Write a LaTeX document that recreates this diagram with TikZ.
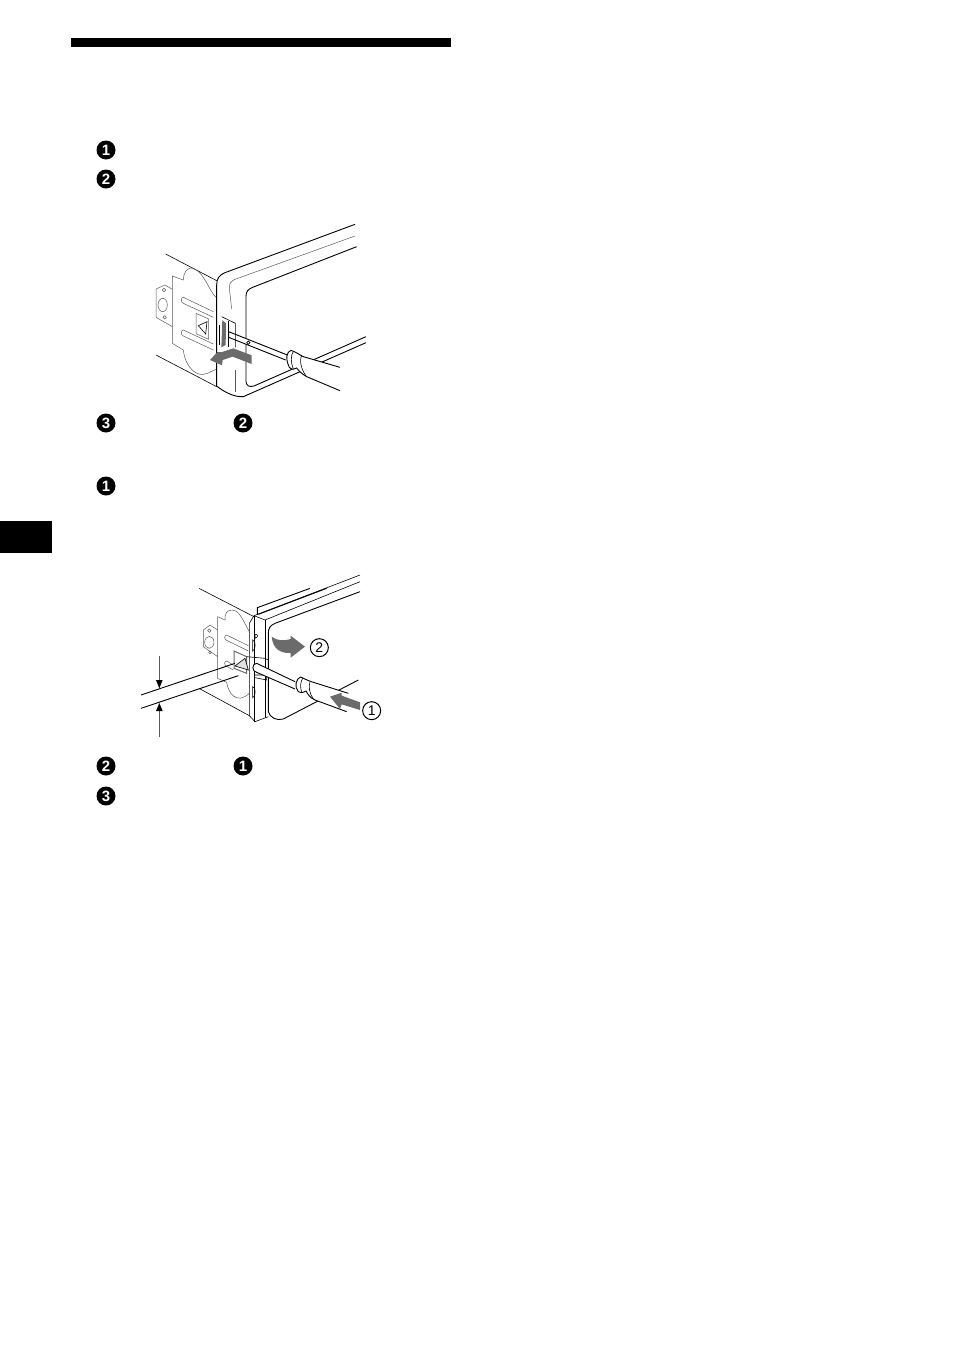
\documentclass[tikz,border=0pt]{standalone}
\usepackage{fontspec}
\setmainfont{Liberation Sans}
\definecolor{arrowgray}{gray}{0.42}
\definecolor{thingray}{gray}{0.35}
\tikzset{
  black num/.style={
    circle,
    fill=black,
    inner sep=0pt,
    minimum size=19pt,
    text=white,
    font=\fontsize{15}{15}\selectfont\bfseries,
  },
  open num/.style={
    circle,
    draw=black,
    line width=1pt,
    inner sep=0pt,
    minimum size=18pt,
    font=\fontsize{14}{14}\selectfont,
  },
  heavy line/.style={line width=0.9pt, black},
  body line/.style={line width=0.6pt, black},
  thin line/.style={line width=0.5pt, thingray},
  gray arrow/.style={fill=arrowgray, draw=none},
}
\begin{document}
\begin{tikzpicture}[x=1pt,y=-1pt]
    \useasboundingbox (0,0) rectangle (954,1352);
    \fill (71,38) rectangle (451,47);
    \fill (0,521) rectangle (52,553);

    \node [black num] (n1) at (106,150) {1};
    \node [black num] (n2) at (106,179) {2};
    \node [black num] (n3) at (106,423) {3};
    \node [black num] (n4) at (243,423) {2};
    \node [black num] (n5) at (106,486) {1};
    \node [black num] (n6) at (106,766) {2};
    \node [black num] (n7) at (243,766) {1};
    \node [black num] (n8) at (106,796) {3};

    % upper drawing
    \begin{scope}[shift={(130,210)},scale=1/3]
        \draw [heavy line] (675,43) -- (285,188) .. controls (268,195) and (260,205) .. (260,225)
            -- (260,528) .. controls (285,548) and (315,562) .. (340,560) -- (708,398);
        \draw [thin line] (675,78) -- (315,208) .. controls (302,214) and (298,220) .. (298,235) -- (305,297);
        \draw [thin line] (315,480) -- (315,545);
        \draw [heavy line] (680,110) -- (368,232) .. controls (353,238) and (348,245) .. (348,260)
            -- (348,515) .. controls (350,528) and (358,532) .. (372,528) -- (708,380);
        \draw [body line] (107,132) -- (260,212);
        \draw [body line] (78,435) -- (260,530);
        % bracket
        \draw [thin line] (258,262) .. controls (235,240) and (225,190) .. (190,175)
            .. controls (170,170) and (160,190) .. (160,210) -- (127,198) -- (127,400) -- (160,420)
            .. controls (165,470) and (200,505) .. (232,490) -- (258,478);
        \draw [thin line] (127,238) -- (105,225) -- (78,237) -- (78,322) -- (127,350);
        \draw [thin line] (98,285) ellipse (14 and 20);
        \draw [thin line] (102,240) circle (5);
        \draw [thin line] (104,322) circle (5);
        \draw [thin line] (250,305) -- (160,262) .. controls (152,262) and (152,278) .. (160,280) -- (250,322);
        \draw [thin line] (250,402) -- (160,360) .. controls (152,360) and (152,376) .. (160,378) -- (250,420);
        \draw [thin line] (198,310) -- (236,327) -- (236,388) -- (198,371) -- cycle;
        \draw [body line] (205,347) -- (231,335) -- (227,372) -- cycle;
        % screwdriver
        \draw [heavy line, fill=white] (472,435) -- (296,365) -- (296,382) -- (467,450);
        \draw [body line] (355,398) circle (5);
        % clip
        \draw [body line] (275,320) -- (316,340) -- (316,412);
        \draw [body line] (295,332) -- (295,412);
        \draw [heavy line] (268,345) -- (268,405);
        \fill [arrowgray] (277,330) -- (288,340) -- (287,405) -- (274,412) -- cycle;
        % handle
        \draw [heavy line, fill=white] (630,472) -- (520,440) .. controls (505,432) and (495,425) .. (483,421)
            .. controls (470,425) and (465,445) .. (478,472) .. controls (485,480) and (495,478) .. (500,474)
            .. controls (505,480) and (510,488) .. (530,500) -- (630,542);
        \draw [body line] (490,424) .. controls (482,435) and (482,458) .. (490,477);
        \draw [body line] (515,435) .. controls (508,450) and (512,475) .. (528,498);
        % arrow
        \fill [gray arrow] (240,450) -- (262,426) -- (276,426) -- (310,415) -- (365,436) -- (365,462)
            -- (308,440) -- (278,450) -- (276,466) -- cycle;
    \end{scope}

    % lower drawing
    \begin{scope}[shift={(130,565)},scale=1/3]
        \draw [body line] (207,70) -- (372,155);
        \draw [body line] (207,370) -- (358,452);
        \draw [heavy line] (382,148) -- (382,128) -- (540,70);
        \draw [heavy line] (385,148) -- (590,70);
        \draw [body line] (372,152) -- (690,30);
        \draw [body line] (405,165) -- (690,50);
        \draw [heavy line] (690,80) -- (435,175) .. controls (420,182) and (415,190) .. (415,205) -- (415,440)
            .. controls (420,458) and (440,468) .. (460,462) -- (685,345);
        \draw [body line] (372,152) -- (372,470);
        \draw [body line] (372,152) -- (358,175) -- (358,452) -- (375,470) -- (415,455);
        \draw [body line] (405,165) -- (405,458);
        \draw [body line] (372,152) -- (405,165);
        % bracket
        \draw [thin line] (358,200) .. controls (340,170) and (330,135) .. (305,135)
            .. controls (290,135) and (283,150) .. (285,165) -- (263,155) -- (263,340) -- (290,352)
            .. controls (295,385) and (320,420) .. (358,385);
        \draw [thin line] (263,195) -- (240,180) -- (220,195) -- (220,245) -- (263,275);
        \draw [thin line] (238,232) ellipse (14 and 18);
        \draw [thin line] (238,197) circle (5);
        \draw [thin line] (240,262) circle (4);
        \draw [thin line] (355,242) -- (290,210) .. controls (282,210) and (282,224) .. (290,226) -- (355,258);
        \draw [thin line] (310,300) -- (290,288) .. controls (282,288) and (282,302) .. (290,304) -- (310,315);
        \draw [body line] (375,208) .. controls (385,205) and (385,218) .. (375,220) -- cycle;
        \draw [body line] (368,225) .. controls (378,225) and (378,255) .. (368,258) -- cycle;
        \draw [body line] (368,365) .. controls (378,365) and (378,395) .. (368,398) -- cycle;
        % latch
        \draw [line width=1pt, arrowgray] (312,258) -- (350,275) -- (350,325) -- (312,310) -- cycle;
        \draw [body line, fill=black!12] (315,303) -- (345,280) -- (355,315) -- cycle;
        \draw [body line] (350,275) -- (405,280) -- (415,285) -- (415,310);
        \draw [body line] (375,330) -- (410,330) -- (410,345) -- (375,338);
        % screwdriver
        \draw [heavy line] (33,390) -- (315,295);
        \draw [heavy line] (33,430) -- (325,332);
        \draw [heavy line, fill=white] (495,350) -- (380,295) .. controls (365,295) and (365,320) .. (380,322) -- (495,372);
        % handle
        \draw [heavy line, fill=white] (655,385) -- (560,355) .. controls (540,350) and (525,342) .. (512,336)
            .. controls (498,340) and (492,365) .. (505,380) .. controls (515,385) and (522,382) .. (528,378)
            .. controls (535,390) and (540,398) .. (555,405) -- (650,440);
        \draw [body line] (518,340) .. controls (510,352) and (510,370) .. (516,383);
        \draw [body line] (540,350) .. controls (535,365) and (538,385) .. (550,402);
        % dimension
        \draw [thin line] (88,272) -- (88,348);
        \draw [thin line] (88,515) -- (88,438);
        \fill (78,345) -- (98,345) -- (88,370) -- cycle;
        \fill (78,438) -- (98,438) -- (88,414) -- cycle;
        % arrows
        \fill [gray arrow] (425,215) .. controls (440,228) and (465,228) .. (482,222) -- (482,212) -- (525,245)
            -- (482,278) -- (482,264) .. controls (450,266) and (428,250) .. (425,215) -- cycle;
        \fill [gray arrow] (600,395) -- (635,383) -- (635,392) -- (690,412) -- (690,435) -- (635,418) -- (630,432) -- cycle;
        \node [open num] (c2) at (568,248) {2};
        \node [open num] (c1) at (725,437) {1};
    \end{scope}
\end{tikzpicture}
\end{document}
